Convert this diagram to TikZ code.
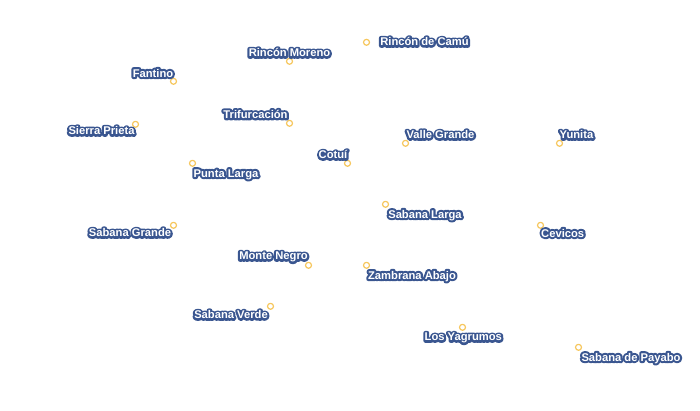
\documentclass[tikz,border=0pt]{standalone}
\usepackage{fontspec}
\setmainfont{Liberation Sans}[BoldFont={* Bold}]
\newfontfamily\halofont[FakeBold=38]{Liberation Sans Bold}
\definecolor{halonavy}{HTML}{3A5690}
\definecolor{pinorange}{HTML}{F6C75E}
\newcommand{\halotext}[1]{\leavevmode\rlap{\color{halonavy}\halofont #1}#1}
\tikzset{
  pin dot/.style={circle,draw=pinorange,fill=white,line width=1.2pt,minimum size=6pt,inner sep=0pt},
  place label/.style={anchor=base,text=white,font=\bfseries\fontsize{11.2}{13}\selectfont,inner sep=0pt}
}
\newcommand{\place}[6]{%
  \node[pin dot] (#1p) at (#2+0.5,#3+0.3) {};
  \node[place label] (#1t) at (#4,#5+4) {\halotext{#6}};
}
\begin{document}
\begin{tikzpicture}[x=1pt,y=-1pt,line join=round]
\useasboundingbox (0,0) rectangle (700,410);
\place{a}{366}{42}{424.5}{41.7}{Rincón de Camú}
\place{b}{289}{61}{289.5}{52.7}{Rincón Moreno}
\place{c}{173}{81}{153}{73}{Fantino}
\place{d}{135}{124}{101.5}{130.7}{Sierra Prieta}
\place{e}{289}{123}{255.5}{114.3}{Trifurcación}
\place{f}{347}{163}{333}{154.7}{Cotuí}
\place{g}{405}{143}{440.5}{134.7}{Valle Grande}
\place{h}{559}{143}{576.5}{134.7}{Yunita}
\place{i}{192}{163}{226}{173}{Punta Larga}
\place{j}{385}{204}{425}{214}{Sabana Larga}
\place{k}{173}{225}{130}{232.7}{Sabana Grande}
\place{l}{540}{225}{562.7}{233}{Cevicos}
\place{m}{308}{265}{273.5}{255.7}{Monte Negro}
\place{n}{366}{265}{412}{275}{Zambrana Abajo}
\place{o}{270}{306}{231}{314.7}{Sabana Verde}
\place{p}{462}{327}{463.3}{336.7}{Los Yagrumos}
\place{q}{578}{347}{631}{357}{Sabana de Payabo}
\end{tikzpicture}
\end{document}
